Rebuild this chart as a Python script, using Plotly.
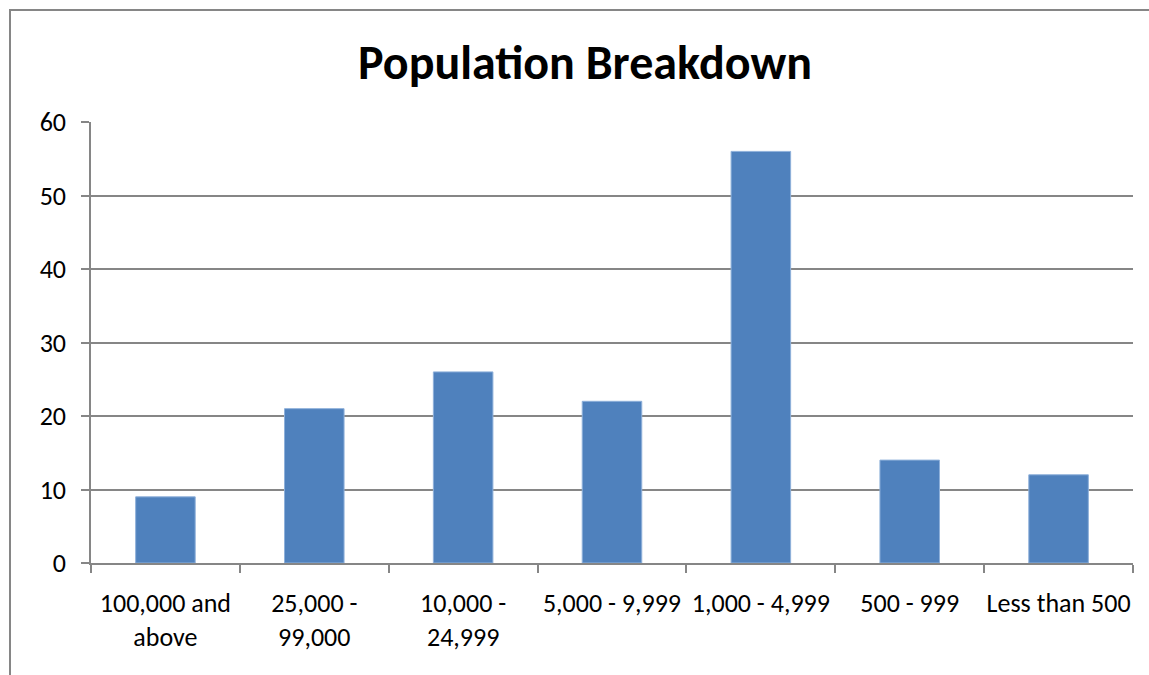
import plotly.graph_objects as go

categories = ["100,000 and<br>above", "25,000 -<br>99,000", "10,000 -<br>24,999",
              "5,000 - 9,999", "1,000 - 4,999", "500 - 999", "Less than 500"]
counts = [9, 21, 26, 22, 56, 14, 12]
y_ticks = [0, 10, 20, 30, 40, 50, 60]

W, H = 1149, 675
L, R, T, B = 91, 1133, 122, 563

def px_x(px):
    return (px - L) / (R - L)

def px_y(py):
    return (B - py) / (B - T)

font = "Carlito, Calibri, Lato, sans-serif"
grey = "#868686"

fig = go.Figure(go.Bar(
    x=categories, y=counts,
    marker=dict(color="#4F81BD", line=dict(color="#8EB0DA", width=1)),
    width=0.4,
))

fig.update_layout(
    width=W, height=H,
    margin=dict(l=L, r=W - R, t=T, b=H - B, autoexpand=False),
    paper_bgcolor="white", plot_bgcolor="white",
    showlegend=False,
    title=dict(text="<b>Population Breakdown</b>", x=px_x(585), xref="paper",
               y=1 - 62 / H, yref="container", xanchor="center", yanchor="middle",
               font=dict(family=font, size=48, color="black")),
    font=dict(family=font, size=26, color="black"),
    bargap=0.6,
)

fig.update_xaxes(
    type="category", showline=True, linecolor=grey, linewidth=1.5,
    ticks="outside", tickson="boundaries", ticklen=8, tickcolor=grey, tickwidth=1.5,
    tickfont=dict(family=font, size=26, color="black"), showgrid=False,
    tickangle=0, automargin=False, ticklabelstandoff=16,
)
fig.update_yaxes(
    range=[0, 60], tickvals=y_ticks, showline=True, linecolor=grey, linewidth=1.5,
    ticks="outside", ticklen=8, tickcolor=grey, tickwidth=1.5,
    showgrid=True, gridcolor=grey, gridwidth=1.5, zeroline=False,
    tickfont=dict(family=font, size=26, color="black"),
    automargin=False, ticklabelstandoff=10,
)

# outer chart frame
fig.add_shape(type="rect", xref="paper", yref="paper",
              x0=px_x(10), x1=px_x(1170), y0=px_y(700), y1=px_y(10),
              line=dict(color=grey, width=2), fillcolor="rgba(0,0,0,0)", layer="above")

fig.write_html("out.html")
